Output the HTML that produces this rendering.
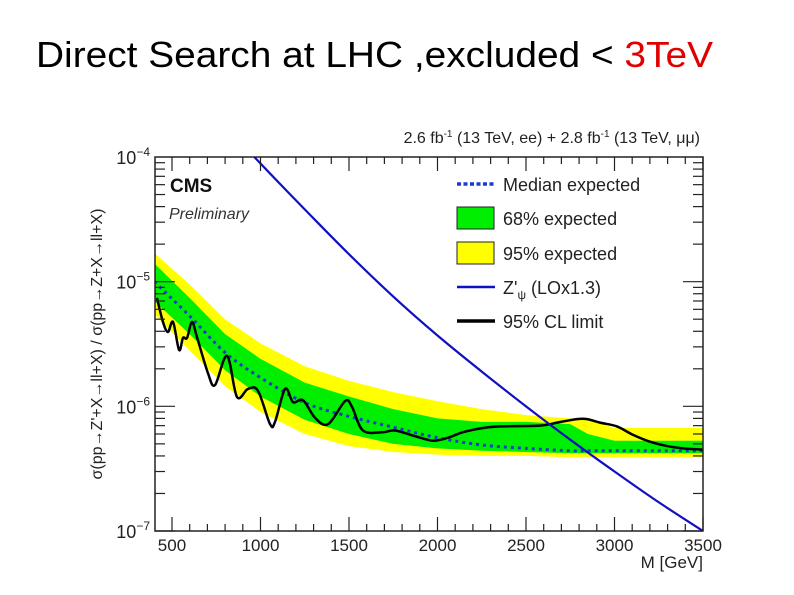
<!DOCTYPE html>
<html><head><meta charset="utf-8"><style>
html,body{margin:0;padding:0;background:#fff;width:794px;height:595px;overflow:hidden}
svg{display:block;font-family:"Liberation Sans",Arial,sans-serif}
</style></head><body>
<svg id="chart" width="794" height="595" viewBox="0 0 794 595">
<text x="36" y="67" font-size="36" fill="#000" textLength="677" lengthAdjust="spacingAndGlyphs">Direct Search at LHC ,excluded &lt; <tspan fill="#e00000">3TeV</tspan></text>
<text x="700" y="143" font-size="16" text-anchor="end" fill="#222">2.6 fb<tspan font-size="10" dy="-6">-1</tspan><tspan dy="6"> (13 TeV, ee) + 2.8 fb</tspan><tspan font-size="10" dy="-6">-1</tspan><tspan dy="6"> (13 TeV, μμ)</tspan></text>
<g id="plot"></g>
</svg>
<script>
const massBand=[400,600,800,1000,1250,1500,1750,2000,2250,2500,2750,2850,3000,3250,3500];
const median=[10.0,5.3,2.7,1.7,1.07,0.83,0.68,0.56,0.49,0.46,0.44,0.44,0.44,0.44,0.44];
const g68hi=[14,7.4,3.8,2.4,1.55,1.2,0.95,0.8,0.75,0.75,0.72,0.6,0.53,0.53,0.53];
const g68lo=[7.0,3.8,1.95,1.2,0.78,0.6,0.5,0.46,0.44,0.43,0.42,0.42,0.42,0.42,0.42];
const y95hi=[17,9.5,5.0,3.2,2.1,1.6,1.3,1.1,0.95,0.85,0.8,0.78,0.67,0.67,0.67];
const y95lo=[5.5,2.8,1.45,0.9,0.6,0.48,0.43,0.41,0.40,0.40,0.39,0.39,0.39,0.39,0.39];
const massZ=[965,1100,1250,1500,1750,2000,2250,2500,2750,3000,3250,3500];
const sigZ=[100,63,38,16.6,7.6,3.7,1.9,1.0,0.54,0.30,0.17,0.10];
const massObs=[415,449,477,506,540,562,585,613,641,703,743,811,867,929,986,1054,1082,1139,1184,1240,1308,1382,1478,1517,1579,1692,1760,1884,1975,2059,2144,2257,2353,2579,2675,2788,2845,2918,3014,3105,3201,3297,3387,3500];
const sigObs=[7.4,4.75,3.95,4.75,2.83,3.54,3.54,4.75,3.6,1.85,1.48,2.54,1.19,1.38,1.33,0.72,0.75,1.38,1.08,1.12,0.81,0.72,1.10,0.99,0.64,0.62,0.64,0.57,0.53,0.56,0.62,0.67,0.69,0.70,0.74,0.79,0.79,0.74,0.69,0.59,0.52,0.48,0.46,0.45];
const xTicks=[500,1000,1500,2000,2500,3000,3500];
const yTicks=[-4,-5,-6,-7];

const L=155,R=703,T=157,B=531,XMIN=404,XMAX=3500;
const sx=m=>L+(m-XMIN)/(XMAX-XMIN)*(R-L);
const sy=s=>{const lg=Math.log10(s*1e-6);return T+(-4-lg)/3*(B-T);};
const NS="http://www.w3.org/2000/svg";
const g=document.getElementById('plot');
function mk(tag,attrs,parent){const e=document.createElementNS(NS,tag);for(const k in attrs)e.setAttribute(k,attrs[k]);(parent||g).appendChild(e);return e;}
function pts(ms,ss){return ms.map((m,i)=>sx(m).toFixed(1)+','+sy(ss[i]).toFixed(1));}
function band(hi,lo){return pts(massBand,hi).concat(pts(massBand,lo).reverse()).join(' ');}
function smooth(ms,ss){const P=ms.map((m,i)=>[sx(m),sy(ss[i])]);let d='M'+P[0][0]+','+P[0][1];
 for(let i=0;i<P.length-1;i++){const p0=P[Math.max(0,i-1)],p1=P[i],p2=P[i+1],p3=P[Math.min(P.length-1,i+2)];
 const c1=[p1[0]+(p2[0]-p0[0])/6,p1[1]+(p2[1]-p0[1])/6],c2=[p2[0]-(p3[0]-p1[0])/6,p2[1]-(p3[1]-p1[1])/6];
 d+=' C'+c1.join(',')+' '+c2.join(',')+' '+p2.join(',');}return d;}

const defs=mk('clipPath',{id:'clip'});mk('rect',{x:L,y:T,width:R-L,height:B-T},defs);
const yb=mk('polygon',{points:band(y95hi,y95lo),fill:'#ffff00','clip-path':'url(#clip)'});


const gb=mk('polygon',{points:band(g68hi,g68lo),fill:'#00ee00','clip-path':'url(#clip)'});


const md=mk('path',{d:smooth(massBand,median),fill:'none',stroke:'#1a3ccc','stroke-width':3,'stroke-dasharray':'3,4','clip-path':'url(#clip)'});


const ob=mk('path',{d:smooth(massObs,sigObs),fill:'none',stroke:'#000','stroke-width':2.5,'stroke-linejoin':'round','clip-path':'url(#clip)'});


const zp=mk('path',{d:smooth(massZ,sigZ),fill:'none',stroke:'#1010c0','stroke-width':2.2,'clip-path':'url(#clip)'});



const fr=mk('rect',{x:L,y:T,width:R-L,height:B-T,fill:'none',stroke:'#222','stroke-width':1.5});



for(let m=500;m<=3500;m+=100){const x=sx(m);const len=(m%500===0)?14:7;
 mk('line',{x1:x,y1:B,x2:x,y2:B-len,stroke:'#222','stroke-width':1.2});
 mk('line',{x1:x,y1:T,x2:x,y2:T+len,stroke:'#222','stroke-width':1.2});}
xTicks.forEach(m=>{const t=mk('text',{x:sx(m),y:B+20,'font-size':17,'text-anchor':'middle',fill:'#222'});t.textContent=m;
 
 });
for(let d=-7;d<-4;d++){for(let k=1;k<10;k++){const s=k*Math.pow(10,d)*1e6;const y=sy(s);const len=k===1?20:10;
 mk('line',{x1:L,y1:y,x2:L+len,y2:y,stroke:'#222','stroke-width':1.2});
 mk('line',{x1:R,y1:y,x2:R-len,y2:y,stroke:'#222','stroke-width':1.2});}}
yTicks.forEach(e=>{const y=sy(Math.pow(10,e)*1e6);const t=mk('text',{x:150,y:y+7,'font-size':18,'text-anchor':'end',fill:'#222'});
 t.innerHTML='10<tspan font-size="12" dy="-8">−'+(-e)+'</tspan>';
 
 });

const xt=mk('text',{x:R,y:568,'font-size':17,'text-anchor':'end',fill:'#222'});xt.textContent='M [GeV]';


const yt=mk('text',{x:0,y:0,'font-size':16,'text-anchor':'middle',fill:'#222',transform:'translate(102,344) rotate(-90)'});
yt.textContent="σ(pp→Z'+X→ll+X) / σ(pp→Z+X→ll+X)";



const c1=mk('text',{x:170,y:192,'font-size':19,'font-weight':'bold',fill:'#111'});c1.textContent='CMS';


const c2=mk('text',{x:169,y:219,'font-size':16,'font-style':'italic',fill:'#333'});c2.textContent='Preliminary';



const lg=mk('g',{});


const rows=[['Median expected',184],['68% expected',218],['95% expected',253],["Z'ψ (LOx1.3)",287],['95% CL limit',321]];
mk('line',{x1:457,y1:rows[0][1],x2:495,y2:rows[0][1],stroke:'#1a3ccc','stroke-width':3.5,'stroke-dasharray':'4,2.5'},lg);
mk('rect',{x:457,y:207,width:37,height:22,fill:'#00ee00',stroke:'#222','stroke-width':1},lg);
mk('rect',{x:457,y:242,width:37,height:22,fill:'#ffff00',stroke:'#222','stroke-width':1},lg);
mk('line',{x1:457,y1:287,x2:495,y2:287,stroke:'#1010c0','stroke-width':2.5},lg);
mk('line',{x1:457,y1:321,x2:495,y2:321,stroke:'#000','stroke-width':3.5},lg);
rows.forEach((r,i)=>{const t=mk('text',{x:503,y:r[1]+7,'font-size':18,fill:'#222'},lg);
 if(i===3){t.innerHTML=`Z'<tspan font-size="12" dy="5">ψ</tspan><tspan dy="-5"> (LOx1.3)</tspan>`;}else t.textContent=r[0];
 
 });
</script>
</body></html>
